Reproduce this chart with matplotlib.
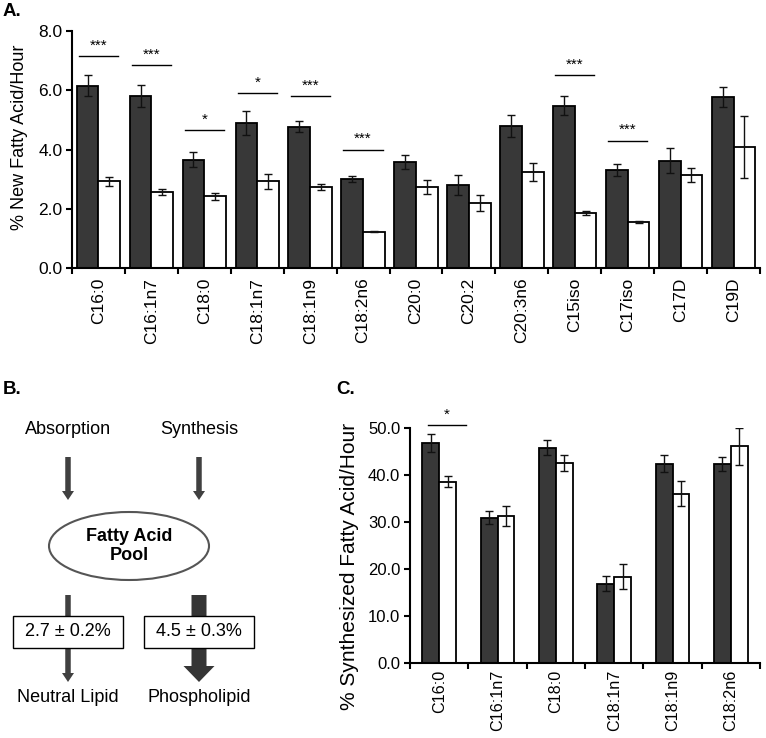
import numpy as np
import matplotlib
matplotlib.use('Agg')
import matplotlib.pyplot as plt
from matplotlib.patches import Ellipse, Rectangle, FancyArrow

plt.rcParams['font.family'] = ['Liberation Sans', 'DejaVu Sans']

# panel A data
fa_labels = ['C16:0', 'C16:1n7', 'C18:0', 'C18:1n7', 'C18:1n9', 'C18:2n6', 'C20:0',
             'C20:2', 'C20:3n6', 'C15iso', 'C17iso', 'C17D', 'C19D']
a_dark = [6.15, 5.82, 3.65, 4.90, 4.77, 3.00, 3.58, 2.80, 4.80, 5.48, 3.30, 3.62, 5.78]
a_dark_err = [0.35, 0.37, 0.25, 0.40, 0.18, 0.10, 0.25, 0.35, 0.38, 0.32, 0.20, 0.42, 0.34]
a_white = [2.92, 2.57, 2.42, 2.93, 2.72, 1.23, 2.73, 2.20, 3.24, 1.85, 1.55, 3.14, 4.08]
a_white_err = [0.15, 0.10, 0.12, 0.25, 0.10, 0.03, 0.24, 0.27, 0.30, 0.07, 0.03, 0.25, 1.05]
# significance bars: (category index, height, stars)
a_sig = [(0, 7.16, '***'), (1, 6.86, '***'), (2, 4.66, '*'), (3, 5.91, '*'),
         (4, 5.81, '***'), (5, 4.00, '***'), (9, 6.50, '***'), (10, 4.30, '***')]

# panel C data
c_labels = ['C16:0', 'C16:1n7', 'C18:0', 'C18:1n7', 'C18:1n9', 'C18:2n6']
c_dark = [46.8, 30.9, 45.8, 16.9, 42.4, 42.4]
c_dark_err = [1.85, 1.4, 1.65, 1.6, 1.8, 1.5]
c_white = [38.6, 31.3, 42.6, 18.4, 36.0, 46.1]
c_white_err = [1.2, 2.15, 1.7, 2.6, 2.7, 3.9]
c_sig = [(0, 50.6, '*')]

# panel B numbers
nl_text = '2.7 ± 0.2%'
pl_text = '4.5 ± 0.3%'

DARK = '#383838'
ARROW = '#404040'

fig = plt.figure(figsize=(7.66, 7.38), dpi=100)

# background axes in pixel coordinates for panel B diagram and panel letters
bg = fig.add_axes([0, 0, 1, 1])
bg.set_xlim(0, 766)
bg.set_ylim(738, 0)
bg.axis('off')


def bar_panel(ax, labels, dark, dark_err, white, white_err, sig, width, ymax, ystep,
              ylabel, ylab_size, ylab_xy, sig_span, ytick_size, xtick_size, xpad):
    x = np.arange(len(labels))
    ek = dict(ecolor='#111111', elinewidth=1.0, capsize=3, capthick=1.0)
    ax.bar(x - width / 2, dark, width, yerr=dark_err, color=DARK, edgecolor='black',
           linewidth=1.3, error_kw=ek, zorder=2)
    ax.bar(x + width / 2, white, width, yerr=white_err, color='white', edgecolor='black',
           linewidth=1.3, error_kw=ek, zorder=2)
    for i, h, s in sig:
        ax.plot([i + sig_span[0], i + sig_span[1]], [h, h], color='black', lw=1.0,
                clip_on=False)
        ax.annotate(s, (i + (sig_span[0] + sig_span[1]) / 2, h), xytext=(0, 2.5),
                    textcoords='offset points', ha='center', va='bottom', fontsize=11,
                    annotation_clip=False)
    ax.set_xlim(-0.5, len(labels) - 0.5)
    ax.set_ylim(0, ymax)
    ticks = np.arange(0, ymax + ystep / 2, ystep)
    ax.set_yticks(ticks)
    ax.set_yticklabels(['%.1f' % v for v in ticks], fontsize=ytick_size)
    ax.set_xticks(x)
    ax.set_xticklabels(labels, rotation=90, fontsize=xtick_size)
    ax.set_xticks(np.arange(-0.5, len(labels), 1.0), minor=True)
    ax.tick_params(axis='x', which='major', length=0, pad=xpad)
    ax.tick_params(axis='x', which='minor', length=4, width=1.5, direction='out')
    ax.tick_params(axis='y', length=4, width=1.5, direction='out', pad=3)
    for sp in ['top', 'right']:
        ax.spines[sp].set_visible(False)
    for sp in ['left', 'bottom']:
        ax.spines[sp].set_linewidth(1.5)
    ax.set_ylabel(ylabel, fontsize=ylab_size)
    ax.yaxis.set_label_coords(*ylab_xy)


axA = fig.add_axes([72 / 766, 1 - 268 / 738, 688 / 766, 237 / 738])
bar_panel(axA, fa_labels, a_dark, a_dark_err, a_white, a_white_err, a_sig, 0.41, 8.0, 2.0,
          '% New Fatty Acid/Hour', 13, (-0.064, 0.553), (-0.37, 0.37), 12.5, 12.5, 7)

axC = fig.add_axes([410 / 766, 1 - 663 / 738, 350 / 766, 235 / 738])
bar_panel(axC, c_labels, c_dark, c_dark_err, c_white, c_white_err, c_sig, 0.29, 50.0, 10.0,
          '% Synthesized Fatty Acid/Hour', 15, (-0.146, 0.413), (-0.2, 0.46), 12, 11.6, 5)

# panel letters
bg.text(3, 12, 'A.', fontsize=13.5, fontweight='bold', ha='left', va='center')
bg.text(3, 390, 'B.', fontsize=13.5, fontweight='bold', ha='left', va='center')
bg.text(336, 390, 'C.', fontsize=13.5, fontweight='bold', ha='left', va='center')

# panel B diagram
lx, rx = 68, 199
bg.text(lx, 429, 'Absorption', fontsize=13, ha='center', va='center')
bg.text(rx, 429, 'Synthesis', fontsize=13, ha='center', va='center')
for xx in (lx, rx):
    bg.add_patch(FancyArrow(xx, 457, 0, 43, width=5.5, head_width=12, head_length=9,
                            length_includes_head=True, color=ARROW, lw=0))
bg.add_patch(Ellipse((129, 546), 160, 68, facecolor='white', edgecolor='#555555', lw=1.5))
bg.text(129, 546, 'Fatty Acid\nPool', fontsize=13, fontweight='bold', ha='center',
        va='center', linespacing=1.2)
bg.add_patch(FancyArrow(lx, 595, 0, 87, width=5.5, head_width=12, head_length=9,
                        length_includes_head=True, color=ARROW, lw=0))
bg.add_patch(FancyArrow(rx, 595, 0, 87, width=15, head_width=31, head_length=16,
                        length_includes_head=True, color='#353535', lw=0))
bg.add_patch(Rectangle((13, 616), 110, 32, facecolor='white', edgecolor='black', lw=1.0,
                       zorder=3))
bg.add_patch(Rectangle((144, 616), 110, 32, facecolor='white', edgecolor='black', lw=1.0,
                       zorder=3))
bg.text(lx, 632, nl_text, fontsize=13, ha='center', va='center', zorder=4)
bg.text(rx, 632, pl_text, fontsize=13, ha='center', va='center', zorder=4)
bg.text(lx, 698, 'Neutral Lipid', fontsize=13, ha='center', va='center')
bg.text(rx, 698, 'Phospholipid', fontsize=13, ha='center', va='center')

fig.savefig('out.png', dpi=100)
